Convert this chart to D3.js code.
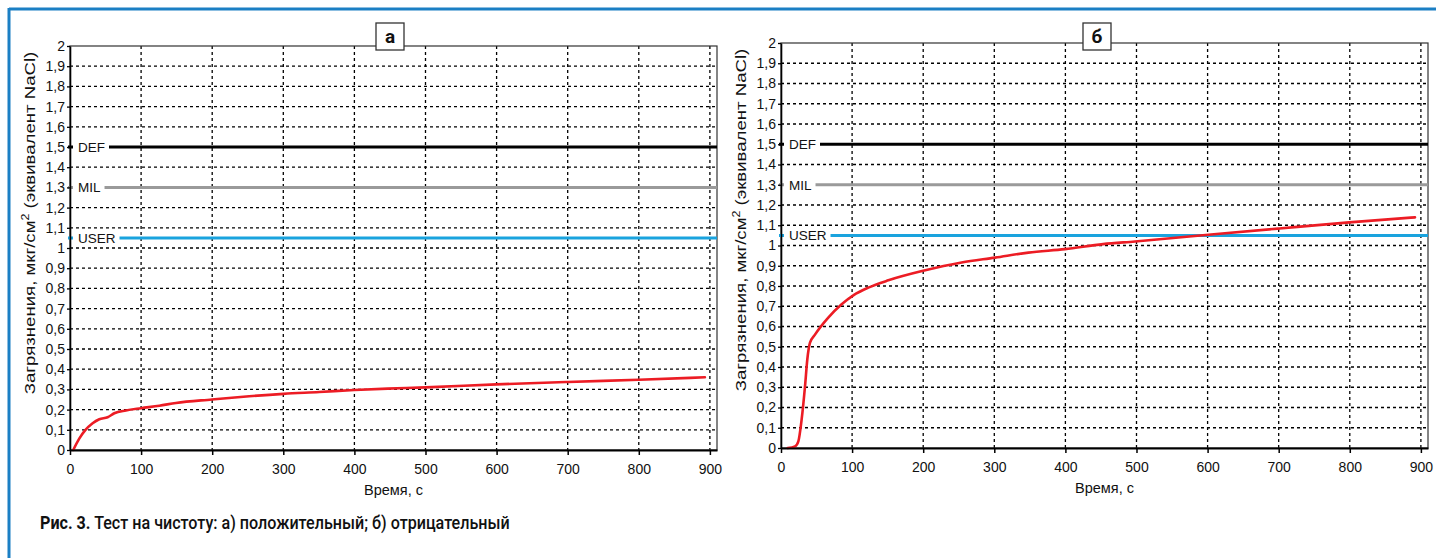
<!DOCTYPE html>
<html><head><meta charset="utf-8">
<script src="https://cdn.jsdelivr.net/npm/d3@7/dist/d3.min.js"></script>
<style>
html,body{margin:0;padding:0;background:#fff;}
svg{display:block;}
text{font-family:"Liberation Sans",Arial,sans-serif;}
</style></head>
<body>
<svg id="chart" width="1436" height="558"></svg>
<script>
// ---------- data ----------
const xTicks = [0, 100, 200, 300, 400, 500, 600, 700, 800, 900];
const yTicks = [0, 0.1, 0.2, 0.3, 0.4, 0.5, 0.6, 0.7, 0.8, 0.9, 1, 1.1, 1.2, 1.3, 1.4, 1.5, 1.6, 1.7, 1.8, 1.9, 2];
const refNames = ["DEF", "MIL", "USER"];
const refValues = [1.5, 1.3, 1.05];
const panelLabels = ["а", "б"];
const xTitle = "Время, с";
const yTitleMain = "Загрязнения, мкг/см";
const yTitleSup = "2";
const yTitleTail = " (эквивалент NaCl)";
const captionBold = "Рис. 3.";
const captionText = " Тест на чистоту: а) положительный; б) отрицательный";

// panel a (positive test)
const timeA  = [4.6, 13, 21.5, 31.8, 41.2, 52.9, 62.3, 78.7, 99.8, 125.6, 149, 199.7, 252, 300.4, 350.6, 399.9, 446.8, 500, 600, 700, 800, 893];
const valueA = [0, 0.056, 0.098, 0.132, 0.152, 0.162, 0.182, 0.196, 0.207, 0.219, 0.233, 0.25, 0.266, 0.278, 0.287, 0.297, 0.304, 0.31, 0.325, 0.337, 0.348, 0.36];
// panel b (negative test)
const timeB  = [9.4, 19.7, 24.4, 29, 33.8, 37, 40.8, 47.8, 66.5, 85.3, 101.7, 122.8, 151, 200, 254, 301, 348, 399.4, 453, 497.9, 601, 700.9, 799, 891.7];
const valueB = [0, 0.008, 0.033, 0.14, 0.305, 0.437, 0.52, 0.56, 0.644, 0.71, 0.754, 0.792, 0.828, 0.875, 0.916, 0.94, 0.965, 0.982, 1.007, 1.02, 1.053, 1.084, 1.114, 1.139];

// ---------- layout / style ----------
const xMax = 910, yMax = 2;
const refColors = ["#000000", "#9a9a9a", "#1aa3de"];
const panels = [
  {left: 70, right: 717, top: 46, bottom: 450, boxX: 376, time: timeA, value: valueA, label: panelLabels[0]},
  {left: 781, right: 1428, top: 43, bottom: 448, boxX: 1083, time: timeB, value: valueB, label: panelLabels[1]}
];

const svg = d3.select("#chart");

// blue frame (top + left)
svg.append("line").attr("x1", 9).attr("x2", 1436).attr("y1", 9).attr("y2", 9)
  .attr("stroke", "#1b7fc4").attr("stroke-width", 3);
svg.append("line").attr("x1", 9).attr("x2", 9).attr("y1", 8).attr("y2", 558)
  .attr("stroke", "#1b7fc4").attr("stroke-width", 3);

const fmt = v => (Number.isInteger(v) ? String(v) : d3.format(".1f")(v).replace(".", ","));
const FONT = "Liberation Sans, Arial, sans-serif";

panels.forEach(p => {
  const x = d3.scaleLinear().domain([0, xMax]).range([p.left, p.right]);
  const y = d3.scaleLinear().domain([0, yMax]).range([p.bottom, p.top]);
  const g = svg.append("g");

  // grid
  g.append("g").selectAll("line").data(yTicks.filter(v => v > 0 && v < yMax)).join("line")
    .attr("x1", p.left).attr("x2", p.right).attr("y1", d => y(d)).attr("y2", d => y(d))
    .attr("stroke", "#000").attr("stroke-width", 1.3).attr("stroke-dasharray", "3,3");
  g.append("g").selectAll("line").data(xTicks.filter(v => v > 0)).join("line")
    .attr("x1", d => x(d)).attr("x2", d => x(d)).attr("y1", p.top).attr("y2", p.bottom)
    .attr("stroke", "#000").attr("stroke-width", 1.3).attr("stroke-dasharray", "3,3");

  // frame
  g.append("rect").attr("x", p.left).attr("y", p.top)
    .attr("width", p.right - p.left).attr("height", p.bottom - p.top)
    .attr("fill", "none").attr("stroke", "#333").attr("stroke-width", 1.2);

  // reference lines
  refValues.forEach((v, i) => {
    g.append("line").attr("x1", p.left - 2).attr("x2", p.right).attr("y1", y(v)).attr("y2", y(v))
      .attr("stroke", refColors[i]).attr("stroke-width", 3);
    const bg = g.append("rect").attr("fill", "#fff");
    const t = g.append("text").attr("x", p.left + 8).attr("y", y(v)).attr("dy", "0.36em")
      .attr("font-size", 13.5).attr("fill", "#111").text(refNames[i]);
    const len = t.node().getComputedTextLength();
    bg.attr("x", p.left + 3).attr("y", y(v) - 3).attr("width", len + 9).attr("height", 6);
  });

  // series
  const line = d3.line().x((d, i) => x(p.time[i])).y((d, i) => y(p.value[i])).curve(d3.curveMonotoneX);
  g.append("path").datum(p.value).attr("d", line)
    .attr("fill", "none").attr("stroke", "#ec1c24").attr("stroke-width", 2.6)
    .attr("stroke-linejoin", "round").attr("stroke-linecap", "round");

  // axes
  const ax = d3.axisBottom(x).tickValues(xTicks).tickSizeInner(5).tickSizeOuter(0).tickPadding(9).tickFormat(d => String(d));
  const gx = g.append("g").attr("transform", `translate(0,${p.bottom})`).call(ax);
  gx.attr("font-family", FONT);
  gx.select(".domain").attr("stroke", "#000").attr("stroke-width", 2);
  gx.selectAll(".tick line").attr("stroke", "#000").attr("stroke-width", 1.5);
  gx.selectAll("text").attr("font-size", 14).attr("fill", "#111");

  const ay = d3.axisLeft(y).tickValues(yTicks).tickSizeInner(3).tickSizeOuter(0).tickPadding(2).tickFormat(fmt);
  const gy = g.append("g").attr("transform", `translate(${p.left},0)`).call(ay);
  gy.attr("font-family", FONT);
  gy.select(".domain").attr("stroke", "#000").attr("stroke-width", 1.6);
  gy.selectAll(".tick line").attr("stroke", "#000").attr("stroke-width", 1.3);
  gy.selectAll("text").attr("font-size", 14).attr("fill", "#111");

  // axis titles
  g.append("text").attr("x", (p.left + p.right) / 2).attr("y", p.bottom + 45)
    .attr("text-anchor", "middle").attr("font-size", 14.5).attr("fill", "#111").text(xTitle);
  const yt = g.append("text")
    .attr("text-anchor", "middle").attr("font-size", 15).attr("fill", "#111");
  yt.append("tspan").text(yTitleMain);
  yt.append("tspan").attr("font-size", 10).attr("dy", -6).text(yTitleSup);
  yt.append("tspan").attr("dy", 6).text(yTitleTail);
  const yl = yt.node().getComputedTextLength();
  yt.attr("transform", `translate(${p.left - 35},${p.top + 177}) rotate(-90) scale(${343 / yl},1)`);

  // panel label box
  g.append("rect").attr("x", p.boxX).attr("y", 23).attr("width", 28).attr("height", 27)
    .attr("fill", "#fff").attr("stroke", "#333").attr("stroke-width", 1.3);
  g.append("text").attr("x", p.boxX + 14).attr("y", 43).attr("text-anchor", "middle")
    .attr("font-size", 19).attr("font-weight", "bold").style("font-family", "Roboto, sans-serif")
    .attr("fill", "#111").text(p.label);
});

// caption
const cap = svg.append("text").attr("y", 529).attr("font-size", 19).attr("fill", "#111")
  .style("font-family", "Roboto, sans-serif");
cap.append("tspan").attr("font-weight", "bold").text(captionBold);
cap.append("tspan").attr("font-weight", 500).text(captionText);
const capLen = cap.node().getComputedTextLength();
cap.attr("transform", `translate(40,0) scale(${470 / capLen},1)`);
</script>
</body></html>
